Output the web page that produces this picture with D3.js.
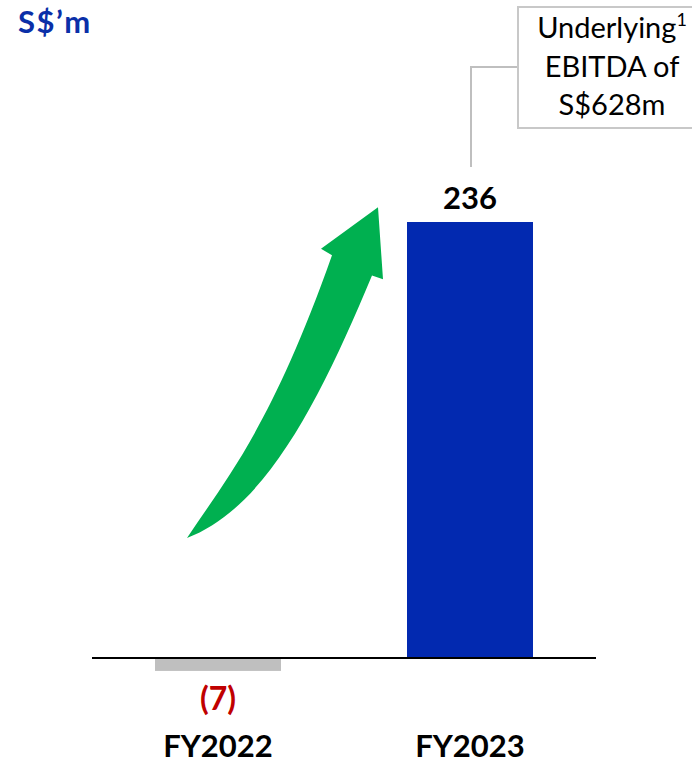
<!DOCTYPE html>
<html><head><meta charset="utf-8">
<script src="https://cdn.jsdelivr.net/npm/d3@7"></script>
<style>body{margin:0;background:#fff}svg{display:block}</style>
</head><body>
<script>
const categories = ["FY2022", "FY2023"];
const values = [-7, 236];
const valueLabels = ["(7)", "236"];
const unitLabel = "S$\u2019m";
const calloutLines = ["Underlying", "EBITDA of", "S$628m"];

const W = 692, H = 765;
const svg = d3.select("body").append("svg").attr("width", W).attr("height", H);
const font = "Lato, 'Open Sans', sans-serif";

const x = d3.scaleBand().domain(categories).range([92, 596]).paddingInner(0.5).paddingOuter(0.25);
const y = d3.scaleLinear().domain([0, 236]).range([658, 222]);

// unit label
svg.append("text").attr("x", 18).attr("y", 33).attr("font-family", font).attr("font-weight", 700)
  .attr("font-size", 31).attr("letter-spacing", 1.5).attr("fill", "#0a2fa8").text(unitLabel);

// bars
svg.selectAll("rect.bar").data(categories).join("rect").attr("class", "bar")
  .attr("x", d => x(d)).attr("width", x.bandwidth())
  .attr("y", (d, i) => y(Math.max(0, values[i])))
  .attr("height", (d, i) => Math.abs(y(values[i]) - y(0)))
  .attr("fill", (d, i) => values[i] < 0 ? "#bfbfbf" : "#0229b0");

// axis line
svg.append("line").attr("x1", 92).attr("x2", 596).attr("y1", y(0)).attr("y2", y(0))
  .attr("stroke", "#000").attr("stroke-width", 2);

// value labels
svg.selectAll("text.val").data(categories).join("text").attr("class", "val")
  .attr("x", d => x(d) + x.bandwidth() / 2)
  .attr("y", (d, i) => values[i] < 0 ? y(values[i]) + 39 : y(values[i]) - 13)
  .attr("text-anchor", "middle").attr("font-family", font).attr("font-weight", 700)
  .attr("font-size", (d, i) => values[i] < 0 ? 32 : 31)
  .attr("fill", (d, i) => values[i] < 0 ? "#c00000" : "#000")
  .text((d, i) => valueLabels[i]);

// category labels
svg.selectAll("text.cat").data(categories).join("text").attr("class", "cat")
  .attr("x", d => x(d) + x.bandwidth() / 2).attr("y", 757)
  .attr("text-anchor", "middle").attr("font-family", font).attr("font-weight", 700).attr("font-size", 31)
  .attr("fill", "#000").text(d => d);

// green arrow
const c0 = x("FY2022");
const P = (dx, v) => [c0 + dx, y(v)];
const tail = P(32, 65), lin = P(177, 218), lb = P(166, 221.5), tip = P(223, 244),
      rb = P(228, 205), rin = P(217, 207);
const p = d3.path();
p.moveTo(...tail);
p.bezierCurveTo(tail[0] + 40, tail[1] - 60, lin[0] - 60, lin[1] + 170, ...lin);
p.lineTo(...lb); p.lineTo(...tip); p.lineTo(...rb); p.lineTo(...rin);
p.bezierCurveTo(rin[0] - 50, rin[1] + 120, tail[0] + 80, tail[1] - 30, ...tail);
p.closePath();
svg.append("path").attr("d", p.toString()).attr("fill", "#00b050");

// callout
const bx = 518, by = 7, bwid = 190, bh = 121;
svg.append("polyline").attr("points", [[bx, 67], [471, 67], [471, 167]].join(" "))
  .attr("fill", "none").attr("stroke", "#bfbfbf").attr("stroke-width", 2);
svg.append("rect").attr("x", bx).attr("y", by).attr("width", bwid).attr("height", bh)
  .attr("fill", "#fff").attr("stroke", "#c8c8c8").attr("stroke-width", 2);
const ct = svg.append("g").attr("font-family", font).attr("font-size", 29).attr("fill", "#000");
calloutLines.forEach((t, i) => {
  const tx = ct.append("text").attr("x", 612).attr("y", 38 + i * 38.5).attr("text-anchor", "middle").text(t);
  if (i === 0) tx.append("tspan").attr("font-size", 18).attr("dy", -12).text("1");
});
</script>
</body></html>
